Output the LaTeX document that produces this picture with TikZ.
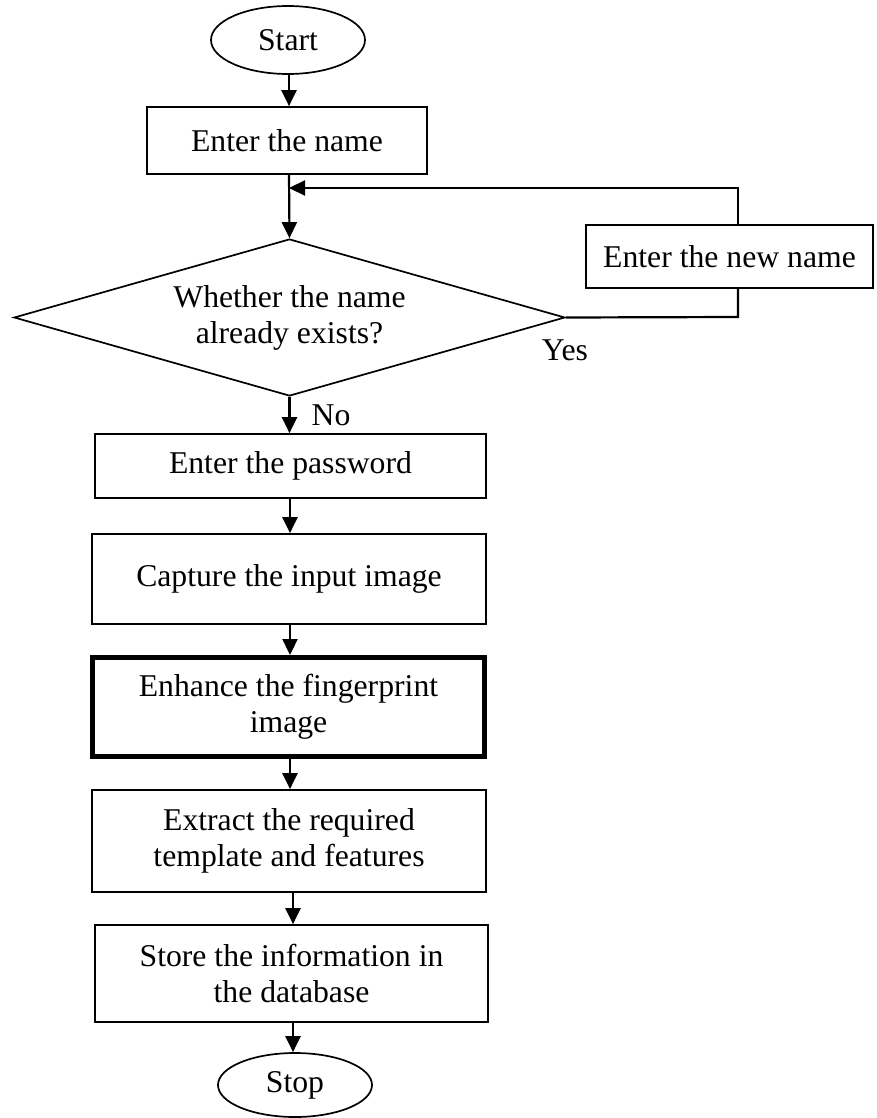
\documentclass[tikz,border=0pt]{standalone}
\usepackage{fontspec}
\setmainfont{Liberation Serif}
\usetikzlibrary{shapes.geometric,arrows.meta}
\begin{document}
\begin{tikzpicture}[x=1pt,y=-1pt,
  every node/.style={font=\fontsize{31.7}{36}\selectfont, inner sep=0pt, align=center},
  procbox/.style={draw, line width=1.7pt, rectangle},
  termin/.style={draw, line width=1.7pt, ellipse},
  decision/.style={draw, line width=1.7pt, diamond, aspect=3.5},
  flow/.style={line width=2.2pt, -{Triangle[length=16pt,width=15pt]}},
  plain/.style={line width=2.2pt}]
\useasboundingbox (0,0) rectangle (876,1118);

% terminals and steps
\node[termin, minimum width=154pt, minimum height=68pt] (start) at (288,40) {Start};
\node[procbox, minimum width=280pt, minimum height=67pt] (name) at (287,140.5) {Enter the name};
\node[decision, minimum width=551pt, minimum height=157pt] (check) at (289.5,317.5)
  {Whether the name\\already exists?};
\node[procbox, minimum width=287pt, minimum height=63pt] (newname) at (729.5,256.5) {Enter the new name};
\node[procbox, minimum width=391pt, minimum height=64pt] (pass) at (290.5,466) {Enter the password};
\node[procbox, minimum width=394pt, minimum height=90pt] (capture) at (289,579) {Capture the input image};
\node[procbox, line width=5pt, minimum width=392pt, minimum height=99pt] (enhance) at (288.5,707)
  {Enhance the fingerprint\\image};
\node[procbox, minimum width=394pt, minimum height=102pt] (extract) at (289,841)
  {Extract the required\\template and features};
\node[procbox, minimum width=393pt, minimum height=97pt] (store) at (291.5,973.5)
  {Store the information in\\the database};
\node[termin, minimum width=154pt, minimum height=64pt] (stop) at (295,1085) {Stop};

% branch labels
\node (nolabel) at (331,415) {No};
\node (yeslabel) at (565,350) {Yes};

% loop-back junctions
\coordinate (loopA) at (738,317);
\coordinate (loopB) at (738,288);
\coordinate (loopC) at (738,225);
\coordinate (loopD) at (738,188);
\coordinate (merge) at (289,188);

% main flow
\draw[flow] (start.south -| 289,0) -- (name.north -| 289,0);
\draw[flow] (name.south -| 289,0) -- (check.north);
\draw[flow] (check.south) -- (pass.north -| check.south);
\draw[flow] (pass.south -| 290,0) -- (capture.north -| 290,0);
\draw[flow] (capture.south -| 290,0) -- (enhance.north -| 290,0);
\draw[flow] (enhance.south -| 290,0) -- (extract.north -| 290,0);
\draw[flow] (extract.south -| 293,0) -- (store.north -| 293,0);
\draw[flow] (store.south -| 293,0) -- (stop.north -| 293,0);

% "Yes" loop through the new-name step
\draw[plain] (check.east) -- (loopA) -- (loopB);
\draw[flow] (loopC) -- (loopD) -- (merge);
\end{tikzpicture}
\end{document}
